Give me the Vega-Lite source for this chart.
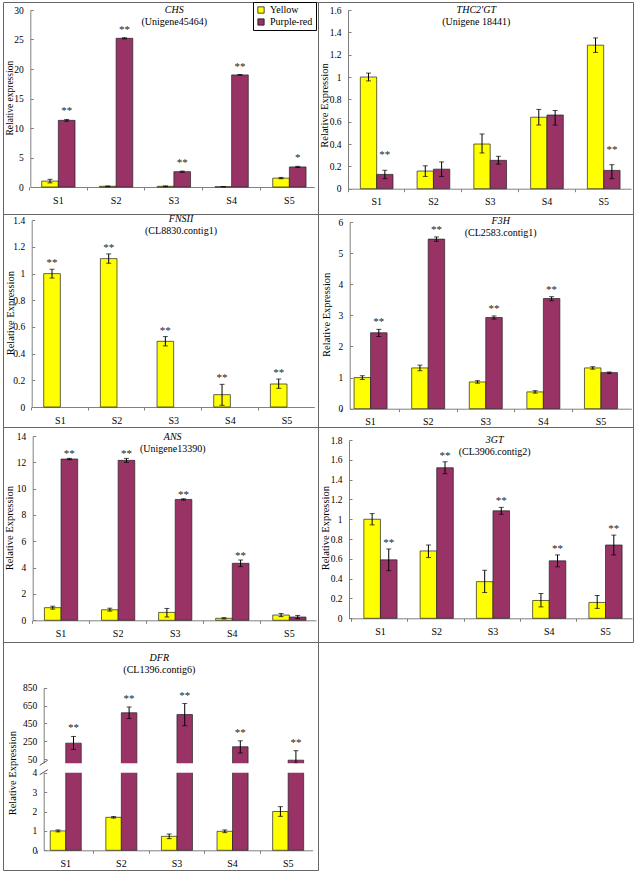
{
  "$schema": "https://vega.github.io/schema/vega-lite/v6.json",
  "background": "white",
  "padding": {"left": 2, "top": 1, "right": 2, "bottom": 2},
  "spacing": 0,
  "columns": 2,
  "bounds": "flush",
  "resolve": {"scale": {"x": "independent", "y": "independent", "xOffset": "independent", "color": "independent"}, "legend": {"color": "independent"}, "axis": {"x": "independent", "y": "independent"}},
  "datasets": {
    "chs": [
      {"s": "S1", "g": "Yellow", "v": 1.0, "lo": 0.7, "hi": 1.3},
      {"s": "S2", "g": "Yellow", "v": 0.12, "lo": 0.06, "hi": 0.18},
      {"s": "S3", "g": "Yellow", "v": 0.12, "lo": 0.06, "hi": 0.18},
      {"s": "S4", "g": "Yellow", "v": 0.05, "lo": 0.02, "hi": 0.08},
      {"s": "S5", "g": "Yellow", "v": 1.5, "lo": 1.4, "hi": 1.62},
      {"s": "S1", "g": "Purple-red", "v": 11.3, "lo": 11.15, "hi": 11.45, "sig": "**"},
      {"s": "S2", "g": "Purple-red", "v": 25.2, "lo": 25.1, "hi": 25.3, "sig": "**"},
      {"s": "S3", "g": "Purple-red", "v": 2.6, "lo": 2.5, "hi": 2.7, "sig": "**"},
      {"s": "S4", "g": "Purple-red", "v": 19.0, "lo": 18.95, "hi": 19.05, "sig": "**"},
      {"s": "S5", "g": "Purple-red", "v": 3.4, "lo": 3.3, "hi": 3.5, "sig": "*"}
    ],
    "thc": [
      {"s": "S1", "g": "Yellow", "v": 1.0, "lo": 0.965, "hi": 1.035},
      {"s": "S2", "g": "Yellow", "v": 0.158, "lo": 0.11, "hi": 0.205},
      {"s": "S3", "g": "Yellow", "v": 0.4, "lo": 0.32, "hi": 0.49},
      {"s": "S4", "g": "Yellow", "v": 0.64, "lo": 0.57, "hi": 0.71},
      {"s": "S5", "g": "Yellow", "v": 1.285, "lo": 1.22, "hi": 1.35},
      {"s": "S1", "g": "Purple-red", "v": 0.128, "lo": 0.09, "hi": 0.165, "sig": "**"},
      {"s": "S2", "g": "Purple-red", "v": 0.175, "lo": 0.11, "hi": 0.24},
      {"s": "S3", "g": "Purple-red", "v": 0.254, "lo": 0.22, "hi": 0.29},
      {"s": "S4", "g": "Purple-red", "v": 0.66, "lo": 0.57, "hi": 0.7},
      {"s": "S5", "g": "Purple-red", "v": 0.164, "lo": 0.09, "hi": 0.215, "sig": "**"}
    ],
    "fns": [
      {"s": "S1", "g": "Yellow", "v": 1.0, "lo": 0.967, "hi": 1.033, "sig": "**"},
      {"s": "S2", "g": "Yellow", "v": 1.1125, "lo": 1.078, "hi": 1.148, "sig": "**"},
      {"s": "S3", "g": "Yellow", "v": 0.4925, "lo": 0.458, "hi": 0.528, "sig": "**"},
      {"s": "S4", "g": "Yellow", "v": 0.0925, "lo": 0.013, "hi": 0.17, "sig": "**"},
      {"s": "S5", "g": "Yellow", "v": 0.1725, "lo": 0.14, "hi": 0.21, "sig": "**"}
    ],
    "f3h": [
      {"s": "S1", "g": "Yellow", "v": 1.0, "lo": 0.94, "hi": 1.06},
      {"s": "S2", "g": "Yellow", "v": 1.31, "lo": 1.22, "hi": 1.4},
      {"s": "S3", "g": "Yellow", "v": 0.86, "lo": 0.82, "hi": 0.9},
      {"s": "S4", "g": "Yellow", "v": 0.54, "lo": 0.5, "hi": 0.58},
      {"s": "S5", "g": "Yellow", "v": 1.31, "lo": 1.27, "hi": 1.35},
      {"s": "S1", "g": "Purple-red", "v": 2.44, "lo": 2.32, "hi": 2.55, "sig": "**"},
      {"s": "S2", "g": "Purple-red", "v": 5.45, "lo": 5.38, "hi": 5.52, "sig": "**"},
      {"s": "S3", "g": "Purple-red", "v": 2.93, "lo": 2.88, "hi": 2.98, "sig": "**"},
      {"s": "S4", "g": "Purple-red", "v": 3.54, "lo": 3.47, "hi": 3.6, "sig": "**"},
      {"s": "S5", "g": "Purple-red", "v": 1.16, "lo": 1.13, "hi": 1.18}
    ],
    "ans": [
      {"s": "S1", "g": "Yellow", "v": 0.96, "lo": 0.85, "hi": 1.07},
      {"s": "S2", "g": "Yellow", "v": 0.8, "lo": 0.7, "hi": 0.92},
      {"s": "S3", "g": "Yellow", "v": 0.6, "lo": 0.25, "hi": 0.9},
      {"s": "S4", "g": "Yellow", "v": 0.15, "lo": 0.1, "hi": 0.2},
      {"s": "S5", "g": "Yellow", "v": 0.4, "lo": 0.28, "hi": 0.52},
      {"s": "S1", "g": "Purple-red", "v": 12.25, "lo": 12.2, "hi": 12.3, "sig": "**"},
      {"s": "S2", "g": "Purple-red", "v": 12.15, "lo": 12.0, "hi": 12.3, "sig": "**"},
      {"s": "S3", "g": "Purple-red", "v": 9.18, "lo": 9.13, "hi": 9.23, "sig": "**"},
      {"s": "S4", "g": "Purple-red", "v": 4.33, "lo": 4.08, "hi": 4.58, "sig": "**"},
      {"s": "S5", "g": "Purple-red", "v": 0.25, "lo": 0.13, "hi": 0.37}
    ],
    "gt3": [
      {"s": "S1", "g": "Yellow", "v": 1.0, "lo": 0.943, "hi": 1.057},
      {"s": "S2", "g": "Yellow", "v": 0.68, "lo": 0.613, "hi": 0.74},
      {"s": "S3", "g": "Yellow", "v": 0.37, "lo": 0.26, "hi": 0.485},
      {"s": "S4", "g": "Yellow", "v": 0.18, "lo": 0.115, "hi": 0.25},
      {"s": "S5", "g": "Yellow", "v": 0.16, "lo": 0.1, "hi": 0.23},
      {"s": "S1", "g": "Purple-red", "v": 0.59, "lo": 0.48, "hi": 0.7, "sig": "**"},
      {"s": "S2", "g": "Purple-red", "v": 1.52, "lo": 1.46, "hi": 1.58, "sig": "**"},
      {"s": "S3", "g": "Purple-red", "v": 1.085, "lo": 1.05, "hi": 1.12, "sig": "**"},
      {"s": "S4", "g": "Purple-red", "v": 0.58, "lo": 0.52, "hi": 0.64, "sig": "**"},
      {"s": "S5", "g": "Purple-red", "v": 0.74, "lo": 0.64, "hi": 0.84, "sig": "**"}
    ],
    "dfr": [
      {"s": "S1", "g": "Yellow", "v": 1.0, "lo": 0.95, "hi": 1.05},
      {"s": "S2", "g": "Yellow", "v": 1.7, "lo": 1.66, "hi": 1.74},
      {"s": "S3", "g": "Yellow", "v": 0.72, "lo": 0.6, "hi": 0.84},
      {"s": "S4", "g": "Yellow", "v": 0.98, "lo": 0.91, "hi": 1.05},
      {"s": "S5", "g": "Yellow", "v": 2.0, "lo": 1.75, "hi": 2.25},
      {"s": "S1", "g": "Purple-red", "v": 230, "lo": 160, "hi": 305, "sig": "**"},
      {"s": "S2", "g": "Purple-red", "v": 570, "lo": 505, "hi": 635, "sig": "**"},
      {"s": "S3", "g": "Purple-red", "v": 550, "lo": 425, "hi": 673, "sig": "**"},
      {"s": "S4", "g": "Purple-red", "v": 190, "lo": 120, "hi": 256, "sig": "**"},
      {"s": "S5", "g": "Purple-red", "v": 40, "lo": 5, "hi": 146, "sig": "**"}
    ]
  },
  "concat": [
    {
      "width": 315, "height": 212,
      "data": {"name": "chs"},
      "title": {"text": "CHS", "subtitle": "(Unigene45464)", "offset": -25.2, "dx": 13.8},
      "resolve": {"axis": {"y": "independent"}},
      "encoding": {
        "x": {"field": "s", "type": "nominal", "title": null,
          "scale": {"domain": ["S1", "S2", "S3", "S4", "S5"], "range": [27.3, 311.3], "paddingInner": 0.423, "paddingOuter": 0.17, "align": 0.58},
          "axis": {"orient": "bottom", "offset": -27}},
        "xOffset": {"field": "g", "type": "nominal", "scale": {"domain": ["Yellow", "Purple-red"], "paddingInner": 0, "paddingOuter": 0}}
      },
      "layer": [
        {"mark": {"type": "bar"},
         "encoding": {
           "y": {"field": "v", "type": "quantitative", "scale": {"domain": [0, 30], "range": [185, 8], "nice": false},
             "axis": {"orient": "left", "offset": -27.3, "values": [0, 5, 10, 15, 20, 25, 30], "title": "Relative expression", "titleFontSize": 9.5, "titleX": -21, "titleY": 95.7}},
           "color": {"field": "g", "type": "nominal", "scale": {"domain": ["Yellow", "Purple-red"], "range": ["#FFFF00", "#993366"]},
             "legend": {"orient": "none", "legendX": 250, "legendY": 0, "title": null, "symbolType": "square", "symbolSize": 40, "symbolStrokeColor": "#000", "symbolStrokeWidth": 0.8, "labelFont": "Liberation Serif", "labelFontSize": 10, "labelColor": "#000", "padding": 3, "rowPadding": 2, "strokeColor": "#000", "fillColor": "white"}}
         }},
        {"mark": {"type": "rule", "color": "#000", "strokeWidth": 1}, "encoding": {"y": {"field": "lo", "type": "quantitative", "axis": null}, "y2": {"field": "hi"}}},
        {"mark": {"type": "tick", "orient": "horizontal", "color": "#000", "size": 5, "thickness": 1}, "encoding": {"y": {"field": "lo", "type": "quantitative", "axis": null}}},
        {"mark": {"type": "tick", "orient": "horizontal", "color": "#000", "size": 5, "thickness": 1}, "encoding": {"y": {"field": "hi", "type": "quantitative", "axis": null}}},
        {"transform": [{"filter": "datum.sig"}], "mark": {"type": "text", "baseline": "alphabetic", "dy": -5}, "encoding": {"y": {"field": "hi", "type": "quantitative", "axis": null}, "text": {"field": "sig"}}}
      ]
    },
    {
      "width": 315, "height": 212,
      "data": {"name": "thc"},
      "title": {"text": "THC2'GT", "subtitle": "(Unigene 18441)", "offset": -25.2, "dx": 0.8},
      "resolve": {"axis": {"y": "independent"}},
      "encoding": {
        "x": {"field": "s", "type": "nominal", "title": null,
          "scale": {"domain": ["S1", "S2", "S3", "S4", "S5"], "range": [30, 313], "paddingInner": 0.424, "paddingOuter": 0.205, "align": 0.53},
          "axis": {"orient": "bottom", "offset": -25.3}},
        "xOffset": {"field": "g", "type": "nominal", "scale": {"domain": ["Yellow", "Purple-red"], "paddingInner": 0, "paddingOuter": 0}}
      },
      "layer": [
        {"mark": {"type": "bar"},
         "encoding": {
           "y": {"field": "v", "type": "quantitative", "scale": {"domain": [0, 1.6], "range": [186.7, 8], "nice": false},
             "axis": {"orient": "left", "offset": -30, "values": [0, 0.2, 0.4, 0.6, 0.8, 1, 1.2, 1.4, 1.6], "title": "Relative Expression", "titleX": -23.5, "titleY": 103}},
           "color": {"field": "g", "type": "nominal", "scale": {"domain": ["Yellow", "Purple-red"], "range": ["#FFFF00", "#993366"]}, "legend": null}
         }},
        {"mark": {"type": "rule", "color": "#000", "strokeWidth": 1}, "encoding": {"y": {"field": "lo", "type": "quantitative", "axis": null}, "y2": {"field": "hi"}}},
        {"mark": {"type": "tick", "orient": "horizontal", "color": "#000", "size": 5, "thickness": 1}, "encoding": {"y": {"field": "lo", "type": "quantitative", "axis": null}}},
        {"mark": {"type": "tick", "orient": "horizontal", "color": "#000", "size": 5, "thickness": 1}, "encoding": {"y": {"field": "hi", "type": "quantitative", "axis": null}}},
        {"transform": [{"filter": "datum.sig"}], "mark": {"type": "text", "baseline": "alphabetic", "dy": -12}, "encoding": {"y": {"field": "hi", "type": "quantitative", "axis": null}, "text": {"field": "sig"}}}
      ]
    },
    {
      "width": 315, "height": 213,
      "data": {"name": "fns"},
      "title": {"text": "FNSII", "subtitle": "(CL8830.contig1)", "offset": -21.5, "dx": 20.5},
      "resolve": {"axis": {"y": "independent"}},
      "encoding": {
        "x": {"field": "s", "type": "nominal", "title": null,
          "scale": {"domain": ["S1", "S2", "S3", "S4", "S5"], "range": [28.7, 311.3], "paddingInner": 0.413, "paddingOuter": 0.2, "align": 0.53},
          "axis": {"orient": "bottom", "offset": -20}},
        "xOffset": {"field": "g", "type": "nominal", "scale": {"domain": ["Yellow", "Purple-red"], "paddingInner": 0, "paddingOuter": 0}}
      },
      "layer": [
        {"mark": {"type": "bar"},
         "encoding": {
           "y": {"field": "v", "type": "quantitative", "scale": {"domain": [0, 1.4], "range": [193, 6.3], "nice": false},
             "axis": {"orient": "left", "offset": -28.7, "values": [0, 0.2, 0.4, 0.6, 0.8, 1, 1.2, 1.4], "title": "Relative Expression", "titleX": -21.5, "titleY": 98.7}},
           "color": {"field": "g", "type": "nominal", "scale": {"domain": ["Yellow", "Purple-red"], "range": ["#FFFF00", "#993366"]}, "legend": null}
         }},
        {"mark": {"type": "rule", "color": "#000", "strokeWidth": 1}, "encoding": {"y": {"field": "lo", "type": "quantitative", "axis": null}, "y2": {"field": "hi"}}},
        {"mark": {"type": "tick", "orient": "horizontal", "color": "#000", "size": 5, "thickness": 1}, "encoding": {"y": {"field": "lo", "type": "quantitative", "axis": null}}},
        {"mark": {"type": "tick", "orient": "horizontal", "color": "#000", "size": 5, "thickness": 1}, "encoding": {"y": {"field": "hi", "type": "quantitative", "axis": null}}},
        {"transform": [{"filter": "datum.sig"}], "mark": {"type": "text", "baseline": "alphabetic", "dy": -3}, "encoding": {"y": {"field": "hi", "type": "quantitative", "axis": null}, "text": {"field": "sig"}}}
      ]
    },
    {
      "width": 315, "height": 213,
      "data": {"name": "f3h"},
      "title": {"text": "F3H", "subtitle": "(CL2583.contig1)", "offset": -24, "dx": 25.2},
      "resolve": {"axis": {"y": "independent"}},
      "encoding": {
        "x": {"field": "s", "type": "nominal", "title": null,
          "scale": {"domain": ["S1", "S2", "S3", "S4", "S5"], "range": [31.7, 313.3], "paddingInner": 0.427, "paddingOuter": 0.158, "align": 0.24},
          "axis": {"orient": "bottom", "offset": -18.3}},
        "xOffset": {"field": "g", "type": "nominal", "scale": {"domain": ["Yellow", "Purple-red"], "paddingInner": 0, "paddingOuter": 0}}
      },
      "layer": [
        {"mark": {"type": "bar"},
         "encoding": {
           "y": {"field": "v", "type": "quantitative", "scale": {"domain": [0, 6], "range": [194.7, 8], "nice": false},
             "axis": {"orient": "left", "offset": -31.7, "values": [0, 1, 2, 3, 4, 5, 6], "title": "Relative Expression", "titleX": -23.4, "titleY": 100.3}},
           "color": {"field": "g", "type": "nominal", "scale": {"domain": ["Yellow", "Purple-red"], "range": ["#FFFF00", "#993366"]}, "legend": null}
         }},
        {"mark": {"type": "rule", "color": "#000", "strokeWidth": 1}, "encoding": {"y": {"field": "lo", "type": "quantitative", "axis": null}, "y2": {"field": "hi"}}},
        {"mark": {"type": "tick", "orient": "horizontal", "color": "#000", "size": 5, "thickness": 1}, "encoding": {"y": {"field": "lo", "type": "quantitative", "axis": null}}},
        {"mark": {"type": "tick", "orient": "horizontal", "color": "#000", "size": 5, "thickness": 1}, "encoding": {"y": {"field": "hi", "type": "quantitative", "axis": null}}},
        {"transform": [{"filter": "datum.sig"}], "mark": {"type": "text", "baseline": "alphabetic", "dy": -4}, "encoding": {"y": {"field": "hi", "type": "quantitative", "axis": null}, "text": {"field": "sig"}}}
      ]
    },
    {
      "width": 315, "height": 215,
      "data": {"name": "ans"},
      "title": {"text": "ANS", "subtitle": "(Unigene13390)", "offset": -26.5, "dx": 12.2},
      "resolve": {"axis": {"y": "independent"}},
      "encoding": {
        "x": {"field": "s", "type": "nominal", "title": null,
          "scale": {"domain": ["S1", "S2", "S3", "S4", "S5"], "range": [29.7, 313], "paddingInner": 0.417, "paddingOuter": 0.19, "align": 0.54},
          "axis": {"orient": "bottom", "offset": -21.7}},
        "xOffset": {"field": "g", "type": "nominal", "scale": {"domain": ["Yellow", "Purple-red"], "paddingInner": 0, "paddingOuter": 0}}
      },
      "layer": [
        {"mark": {"type": "bar"},
         "encoding": {
           "y": {"field": "v", "type": "quantitative", "scale": {"domain": [0, 14], "range": [193.3, 9], "nice": false},
             "axis": {"orient": "left", "offset": -29.7, "values": [0, 2, 4, 6, 8, 10, 12, 14], "title": "Relative Expression", "titleX": -23.4, "titleY": 100.7}},
           "color": {"field": "g", "type": "nominal", "scale": {"domain": ["Yellow", "Purple-red"], "range": ["#FFFF00", "#993366"]}, "legend": null}
         }},
        {"mark": {"type": "rule", "color": "#000", "strokeWidth": 1}, "encoding": {"y": {"field": "lo", "type": "quantitative", "axis": null}, "y2": {"field": "hi"}}},
        {"mark": {"type": "tick", "orient": "horizontal", "color": "#000", "size": 5, "thickness": 1}, "encoding": {"y": {"field": "lo", "type": "quantitative", "axis": null}}},
        {"mark": {"type": "tick", "orient": "horizontal", "color": "#000", "size": 5, "thickness": 1}, "encoding": {"y": {"field": "hi", "type": "quantitative", "axis": null}}},
        {"transform": [{"filter": "datum.sig"}], "mark": {"type": "text", "baseline": "alphabetic", "dy": -1}, "encoding": {"y": {"field": "hi", "type": "quantitative", "axis": null}, "text": {"field": "sig"}}}
      ]
    },
    {
      "width": 315, "height": 215,
      "data": {"name": "gt3"},
      "title": {"text": "3GT", "subtitle": "(CL3906.contig2)", "offset": -30, "dx": 19.2},
      "resolve": {"axis": {"y": "independent"}},
      "encoding": {
        "x": {"field": "s", "type": "nominal", "title": null,
          "scale": {"domain": ["S1", "S2", "S3", "S4", "S5"], "range": [31, 314], "paddingInner": 0.41, "paddingOuter": 0.22, "align": 0.6},
          "axis": {"orient": "bottom", "offset": -23.7}},
        "xOffset": {"field": "g", "type": "nominal", "scale": {"domain": ["Yellow", "Purple-red"], "paddingInner": 0, "paddingOuter": 0}}
      },
      "layer": [
        {"mark": {"type": "bar"},
         "encoding": {
           "y": {"field": "v", "type": "quantitative", "scale": {"domain": [0, 1.8], "range": [191.3, 13], "nice": false},
             "axis": {"orient": "left", "offset": -31, "values": [0, 0.2, 0.4, 0.6, 0.8, 1, 1.2, 1.4, 1.6, 1.8], "title": "Relative Expression", "titleX": -23.5, "titleY": 100.7}},
           "color": {"field": "g", "type": "nominal", "scale": {"domain": ["Yellow", "Purple-red"], "range": ["#FFFF00", "#993366"]}, "legend": null}
         }},
        {"mark": {"type": "rule", "color": "#000", "strokeWidth": 1}, "encoding": {"y": {"field": "lo", "type": "quantitative", "axis": null}, "y2": {"field": "hi"}}},
        {"mark": {"type": "tick", "orient": "horizontal", "color": "#000", "size": 5, "thickness": 1}, "encoding": {"y": {"field": "lo", "type": "quantitative", "axis": null}}},
        {"mark": {"type": "tick", "orient": "horizontal", "color": "#000", "size": 5, "thickness": 1}, "encoding": {"y": {"field": "hi", "type": "quantitative", "axis": null}}},
        {"transform": [{"filter": "datum.sig"}], "mark": {"type": "text", "baseline": "alphabetic", "dy": -3}, "encoding": {"y": {"field": "hi", "type": "quantitative", "axis": null}, "text": {"field": "sig"}}}
      ]
    },
    {
      "width": 315, "height": 228,
      "title": {"text": "DFR", "subtitle": "(CL1396.contig6)", "offset": -32.5, "dx": -1.2},
      "resolve": {"axis": {"y": "independent"}},
      "layer": [
        {"data": {"name": "dfr"}, "mark": {"type": "bar"},
         "encoding": {
           "x": {"field": "s", "type": "nominal", "title": null,
             "scale": {"domain": ["S1", "S2", "S3", "S4", "S5"], "range": [40.7, 309.7], "paddingInner": 0.442, "paddingOuter": 0.14, "align": 0.42},
             "axis": {"orient": "bottom", "offset": -19.7, "bandPosition": -0.396}},
           "xOffset": {"field": "g", "type": "nominal", "scale": {"domain": ["Yellow", "Purple-red"], "paddingInner": 0, "paddingOuter": 0}},
           "y": {"field": "v", "type": "quantitative", "scale": {"domain": [0, 4, 5, 850], "range": [208.3, 130.7, 121.3, 45.7], "nice": false, "zero": false},
             "axis": {"orient": "left", "offset": -40.7, "values": [0, 1, 2, 3, 4, 50, 250, 450, 650, 850], "title": "Relative Expression", "titleX": -31, "titleY": 130.7}},
           "color": {"field": "g", "type": "nominal", "scale": {"domain": ["Yellow", "Purple-red"], "range": ["#FFFF00", "#993366"]}, "legend": null}
         }},
        {"data": {"name": "dfr"}, "mark": {"type": "rule", "color": "#000", "strokeWidth": 1},
         "encoding": {"x": {"field": "s", "type": "nominal", "title": null}, "xOffset": {"field": "g", "type": "nominal"}, "y": {"field": "lo", "type": "quantitative", "axis": null}, "y2": {"field": "hi"}}},
        {"data": {"name": "dfr"}, "mark": {"type": "tick", "orient": "horizontal", "color": "#000", "size": 5, "thickness": 1},
         "encoding": {"x": {"field": "s", "type": "nominal", "title": null}, "xOffset": {"field": "g", "type": "nominal"}, "y": {"field": "lo", "type": "quantitative", "axis": null}}},
        {"data": {"name": "dfr"}, "mark": {"type": "tick", "orient": "horizontal", "color": "#000", "size": 5, "thickness": 1},
         "encoding": {"x": {"field": "s", "type": "nominal", "title": null}, "xOffset": {"field": "g", "type": "nominal"}, "y": {"field": "hi", "type": "quantitative", "axis": null}}},
        {"data": {"values": [{"band": "gap"}]}, "mark": {"type": "rect", "fill": "white", "xOffset": -3, "x2Offset": 3},
         "encoding": {"x": {"datum": "S1", "bandPosition": -0.211, "title": null}, "x2": {"datum": "S5", "bandPosition": 1}, "y": {"datum": 4, "axis": null}, "y2": {"datum": 5}}},
        {"data": {"values": [{"edge": 5}, {"edge": 4}]}, "mark": {"type": "rule", "color": "#555", "strokeWidth": 1, "xOffset": -4, "x2Offset": 4, "yOffset": 2, "y2Offset": -3},
         "encoding": {"x": {"datum": "S1", "bandPosition": -0.211, "title": null}, "x2": {"datum": "S1", "bandPosition": -0.211}, "y": {"field": "edge", "type": "quantitative", "axis": null}, "y2": {"field": "edge"}}},
        {"data": {"name": "dfr"}, "transform": [{"filter": "datum.sig"}], "mark": {"type": "text", "baseline": "alphabetic", "dy": -5},
         "encoding": {"x": {"field": "s", "type": "nominal", "title": null}, "xOffset": {"field": "g", "type": "nominal"}, "y": {"field": "hi", "type": "quantitative", "axis": null}, "text": {"field": "sig"}}}
      ]
    }
  ],
  "config": {
    "font": "Liberation Serif",
    "view": {"stroke": "#666", "strokeWidth": 1},
    "concat": {"spacing": 0},
    "axis": {"labelFont": "Liberation Serif", "labelFontSize": 9.5, "labelColor": "#000", "titleFont": "Liberation Serif", "titleFontSize": 10.5, "titleFontWeight": "normal", "titleColor": "#000", "domainColor": "#808080", "tickColor": "#808080", "grid": false},
    "axisX": {"labelAngle": 0, "tickSize": 3, "labelPadding": 5, "bandPosition": -0.37, "labelFontSize": 10},
    "axisY": {"tickSize": -3, "labelPadding": 10, "titleAngle": -90, "titleAlign": "center", "titleBaseline": "middle", "labelExpr": "'' + datum.value", "labelOverlap": false},
    "title": {"font": "Liberation Serif", "fontSize": 10, "fontStyle": "italic", "fontWeight": "normal", "color": "#000", "subtitleFont": "Liberation Serif", "subtitleFontSize": 10, "subtitleColor": "#000", "subtitlePadding": 2, "anchor": "middle", "frame": "group"},
    "bar": {"stroke": "#222", "strokeWidth": 0.7},
    "text": {"font": "Liberation Serif", "fontSize": 11, "color": "#222"}
  }
}
